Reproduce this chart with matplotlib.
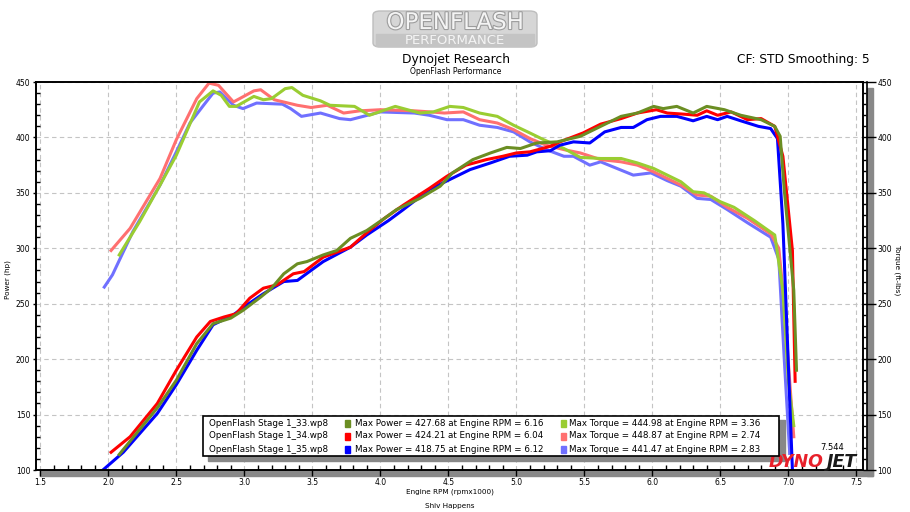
import matplotlib
matplotlib.use("Agg")
import matplotlib.pyplot as plt
from matplotlib.patches import Rectangle, FancyBboxPatch
from matplotlib.lines import Line2D
from matplotlib.ticker import MultipleLocator
import matplotlib.patheffects as pe

plt.rcParams["font.family"] = "DejaVu Sans"

# ---- data (rpm x1000, hp / ft-lbs) ----
runs = ["OpenFlash Stage 1_33.wp8", "OpenFlash Stage 1_34.wp8", "OpenFlash Stage 1_35.wp8"]
max_power = [427.68, 424.21, 418.75]
max_power_rpm = [6.16, 6.04, 6.12]
max_torque = [444.98, 448.87, 441.47]
max_torque_rpm = [3.36, 2.74, 2.83]

pwr33_rpm = [2.08, 2.20, 2.36, 2.50, 2.65, 2.77, 2.90, 2.99, 3.12, 3.20, 3.29, 3.39, 3.46, 3.58, 3.68,
             3.78, 3.90, 4.03, 4.12, 4.29, 4.44, 4.53, 4.68, 4.81, 4.93, 5.03, 5.15, 5.30, 5.47, 5.62,
             5.77, 5.89, 6.01, 6.08, 6.18, 6.30, 6.40, 6.53, 6.65, 6.80, 6.90, 6.94, 6.97, 7.04, 7.06]
pwr33 = [114, 132, 156, 181, 214, 232, 237, 244, 256, 264, 277, 286, 288, 294, 298,
         309, 316, 327, 335, 345, 356, 368, 380, 386, 391, 390, 395, 396, 401, 410,
         419, 422, 428, 426, 428, 422, 428, 425, 420, 416, 410, 401, 353, 262, 190]

pwr34_rpm = [2.02, 2.16, 2.36, 2.50, 2.65, 2.75, 2.85, 2.94, 3.04, 3.14, 3.24, 3.36, 3.44, 3.58, 3.78,
             3.90, 4.03, 4.17, 4.36, 4.49, 4.63, 4.78, 4.90, 5.00, 5.10, 5.25, 5.32, 5.49, 5.62, 5.77,
             5.89, 6.03, 6.11, 6.23, 6.33, 6.40, 6.48, 6.58, 6.70, 6.80, 6.90, 6.96, 7.03, 7.05]
pwr34 = [116, 130, 160, 190, 220, 234, 238, 241, 255, 264, 267, 277, 279, 292, 301,
         314, 327, 339, 354, 365, 375, 380, 383, 386, 387, 392, 396, 404, 412, 417,
         422, 425, 422, 421, 420, 424, 420, 423, 416, 417, 410, 383, 298, 180]

pwr35_rpm = [1.96, 2.11, 2.36, 2.50, 2.65, 2.77, 2.92, 3.02, 3.14, 3.29, 3.39, 3.49, 3.58, 3.78, 3.90,
             4.06, 4.17, 4.36, 4.51, 4.66, 4.81, 4.95, 5.08, 5.15, 5.25, 5.32, 5.42, 5.54, 5.65, 5.77,
             5.86, 5.96, 6.06, 6.18, 6.30, 6.40, 6.48, 6.55, 6.65, 6.78, 6.87, 6.92, 6.96, 7.03]
pwr35 = [100, 116, 151, 177, 208, 231, 240, 249, 259, 270, 271, 280, 288, 301, 312,
         325, 335, 353, 362, 371, 377, 383, 384, 387, 388, 393, 396, 395, 405, 409,
         409, 416, 419, 419, 415, 419, 416, 419, 415, 410, 408, 399, 322, 100]

trq33_rpm = [2.08, 2.23, 2.38, 2.50, 2.67, 2.77, 2.83, 2.89, 2.94, 3.07, 3.14, 3.20, 3.30, 3.35, 3.43,
             3.56, 3.63, 3.81, 3.92, 4.11, 4.29, 4.39, 4.51, 4.61, 4.73, 4.86, 4.98, 5.10, 5.20, 5.35,
             5.47, 5.62, 5.77, 5.89, 6.01, 6.11, 6.21, 6.30, 6.38, 6.50, 6.60, 6.75, 6.90, 6.96, 7.00, 7.04]
trq33 = [294, 324, 357, 384, 432, 442, 438, 428, 428, 437, 434, 435, 444, 445, 438,
         433, 429, 428, 420, 428, 422, 423, 428, 427, 422, 419, 411, 404, 398, 390,
         382, 381, 381, 377, 372, 366, 360, 351, 350, 342, 337, 325, 312, 262, 180, 140]

trq34_rpm = [2.02, 2.16, 2.38, 2.50, 2.65, 2.74, 2.81, 2.92, 3.07, 3.12, 3.22, 3.39, 3.49, 3.61, 3.73,
             3.85, 4.00, 4.25, 4.37, 4.47, 4.61, 4.73, 4.86, 4.98, 5.10, 5.22, 5.35, 5.47, 5.62, 5.77,
             5.89, 6.01, 6.11, 6.21, 6.33, 6.43, 6.55, 6.70, 6.87, 6.93, 6.97, 7.01, 7.04]
trq34 = [298, 318, 363, 398, 435, 449, 447, 432, 442, 443, 434, 429, 427, 429, 422,
         424, 425, 424, 423, 422, 423, 416, 413, 407, 399, 393, 389, 386, 380, 378,
         375, 369, 363, 357, 348, 347, 337, 327, 313, 300, 250, 180, 130]

trq35_rpm = [1.97, 2.03, 2.18, 2.38, 2.50, 2.60, 2.70, 2.77, 2.82, 2.92, 2.99, 3.09, 3.28, 3.34, 3.42,
             3.56, 3.70, 3.78, 4.00, 4.25, 4.36, 4.49, 4.61, 4.73, 4.86, 4.98, 5.10, 5.22, 5.35, 5.42,
             5.54, 5.62, 5.74, 5.86, 5.99, 6.11, 6.21, 6.33, 6.43, 6.55, 6.70, 6.87, 6.93, 6.97, 7.01]
trq35 = [265, 276, 315, 357, 387, 413, 429, 440, 441, 429, 426, 431, 430, 426, 419,
         422, 417, 416, 423, 422, 420, 416, 416, 411, 409, 405, 396, 389, 383, 383,
         375, 378, 372, 366, 368, 361, 356, 345, 344, 335, 323, 310, 290, 200, 115]

power_colors = ["#6b8e23", "#ff0000", "#0000ff"]
torque_colors = ["#9acd32", "#ff7070", "#7070ff"]

W, H = 910, 512
def fx(px): return px / W
def fy(py): return 1 - py / H

fig = plt.figure(figsize=(9.1, 5.12), dpi=100)
fig.set_facecolor("white")

ax = fig.add_axes([fx(36), fy(470), fx(863) - fx(36), fy(82) - fy(470)])
ax.set_xlim(1.468, 7.549)
ax.set_ylim(100, 450)

# shadows
fig.patches.append(Rectangle((fx(40), fy(476)), fx(873) - fx(40), fy(470) - fy(476),
                             transform=fig.transFigure, color="#888888", zorder=-1))
fig.patches.append(Rectangle((fx(867), fy(476)), fx(873) - fx(867), fy(88) - fy(476),
                             transform=fig.transFigure, color="#888888", zorder=-1))
fig.lines.append(Line2D([fx(866.5), fx(866.5)], [fy(82), fy(470)], transform=fig.transFigure,
                        color="black", lw=1.2))

ax.grid(True, which="major", color="#c4c4c4", lw=0.8, dashes=(4, 3))
ax.set_axisbelow(True)

for r, t, c in [(trq35_rpm, trq35, torque_colors[2]), (trq34_rpm, trq34, torque_colors[1]),
                (trq33_rpm, trq33, torque_colors[0])]:
    ax.plot(r, t, color=c, lw=2.2, solid_joinstyle="round")
for r, p, c in [(pwr35_rpm, pwr35, power_colors[2]), (pwr34_rpm, pwr34, power_colors[1]),
                (pwr33_rpm, pwr33, power_colors[0])]:
    ax.plot(r, p, color=c, lw=2.2, solid_joinstyle="round")

for s in ax.spines.values():
    s.set_linewidth(1.2)

ax.xaxis.set_major_locator(MultipleLocator(0.5))
ax.xaxis.set_minor_locator(MultipleLocator(0.1))
ax.yaxis.set_major_locator(MultipleLocator(50))
ax.yaxis.set_minor_locator(MultipleLocator(10))
ax.tick_params(axis="x", which="major", direction="out", length=4.5, width=1, labelsize=5.5, pad=1.5)
ax.tick_params(axis="x", which="minor", direction="in", length=3.6, width=1)
ax.tick_params(axis="y", which="major", direction="out", length=2.5, width=1, labelsize=5.5, pad=1.5)
ax.tick_params(axis="y", which="minor", direction="in", length=3, width=1)
ax.set_xticklabels([f"{v:.1f}" for v in ax.get_xticks()])

ax2 = ax.twinx()
ax2.set_ylim(100, 450)
ax2.yaxis.set_major_locator(MultipleLocator(50))
ax2.yaxis.set_minor_locator(MultipleLocator(10))
ax2.tick_params(axis="y", which="major", direction="out", length=9.5, width=1, labelsize=5.5, pad=1)
ax2.tick_params(axis="y", which="minor", direction="out", length=2.4, width=1)
for s in ax2.spines.values():
    s.set_linewidth(1.2)

# axis labels
fig.text(fx(8), fy(280), "Power (hp)", rotation=90, ha="center", va="center", fontsize=5.2)
fig.text(fx(897), fy(270), "Torque (ft-lbs)", rotation=-90, ha="center", va="center", fontsize=5.2)
fig.text(fx(450), fy(492), "Engine RPM (rpmx1000)", ha="center", va="center", fontsize=5.2)
fig.text(fx(450), fy(506), "Shiv Happens", ha="center", va="center", fontsize=5.2)

# titles
fig.text(fx(456), fy(59), "Dynojet Research", ha="center", va="center", fontsize=8.8)
fig.text(fx(456), fy(72), "OpenFlash Performance", ha="center", va="center", fontsize=5.5)
fig.text(fx(870), fy(59), "CF: STD Smoothing: 5", ha="right", va="center", fontsize=8.8)

# OpenFlash logo
fig.patches.append(FancyBboxPatch((fx(373), fy(47)), fx(537) - fx(373), fy(11) - fy(47),
                                  boxstyle="round,pad=0,rounding_size=0.008",
                                  transform=fig.transFigure, fc="#d6d6d6", ec="#bdbdbd", lw=1))
fig.patches.append(Rectangle((fx(376), fy(46)), fx(534) - fx(376), fy(34) - fy(46),
                             transform=fig.transFigure, color="#c4c4c4"))
fig.text(fx(455), fy(22.5), "OPENFLASH", ha="center", va="center", fontsize=16.5,
         color="#f4f4f4", path_effects=[pe.withStroke(linewidth=1.6, foreground="#9c9c9c")])
fig.text(fx(455), fy(40.5), "PERFORMANCE", ha="center", va="center", fontsize=9.5, color="#f4f4f4")

# legend box with shadow
fig.patches.append(Rectangle((fx(208), fy(461)), fx(785) - fx(208), fy(420) - fy(461),
                             transform=fig.transFigure, color="#888888", zorder=3))
fig.patches.append(Rectangle((fx(203), fy(456)), fx(779) - fx(203), fy(416) - fy(456),
                             transform=fig.transFigure, fc="white", ec="black", lw=1.2, zorder=4))
row_y = [423, 436, 449]
for i, name in enumerate(runs):
    fig.text(fx(209), fy(row_y[i]), name, ha="left", va="center", fontsize=6.3, zorder=5)
    fig.patches.append(Rectangle((fx(345), fy(row_y[i] + 3.5)), fx(5), fy(0) - fy(7),
                                 transform=fig.transFigure, color=power_colors[i], zorder=5))
    fig.text(fx(355), fy(row_y[i]),
             f"Max Power = {max_power[i]:.2f} at Engine RPM = {max_power_rpm[i]:.2f}",
             ha="left", va="center", fontsize=6.3, zorder=5)
    fig.patches.append(Rectangle((fx(561), fy(row_y[i] + 3.5)), fx(5), fy(0) - fy(7),
                                 transform=fig.transFigure, color=torque_colors[i], zorder=5))
    fig.text(fx(569), fy(row_y[i]),
             f"Max Torque = {max_torque[i]:.2f} at Engine RPM = {max_torque_rpm[i]:.2f}",
             ha="left", va="center", fontsize=6.3, zorder=5)

# Dynojet mark
fig.text(fx(832), fy(448), "7.544", ha="center", va="center", fontsize=6)
fig.text(fx(769), fy(462), "DYNO", ha="left", va="center", fontsize=12.5, color="#e8202a",
         fontweight="bold", fontstyle="italic")
fig.text(fx(827), fy(462), "JET", ha="left", va="center", fontsize=12.5, color="#1a1a1a",
         fontweight="bold", fontstyle="italic")

fig.savefig("out.png", dpi=100)
